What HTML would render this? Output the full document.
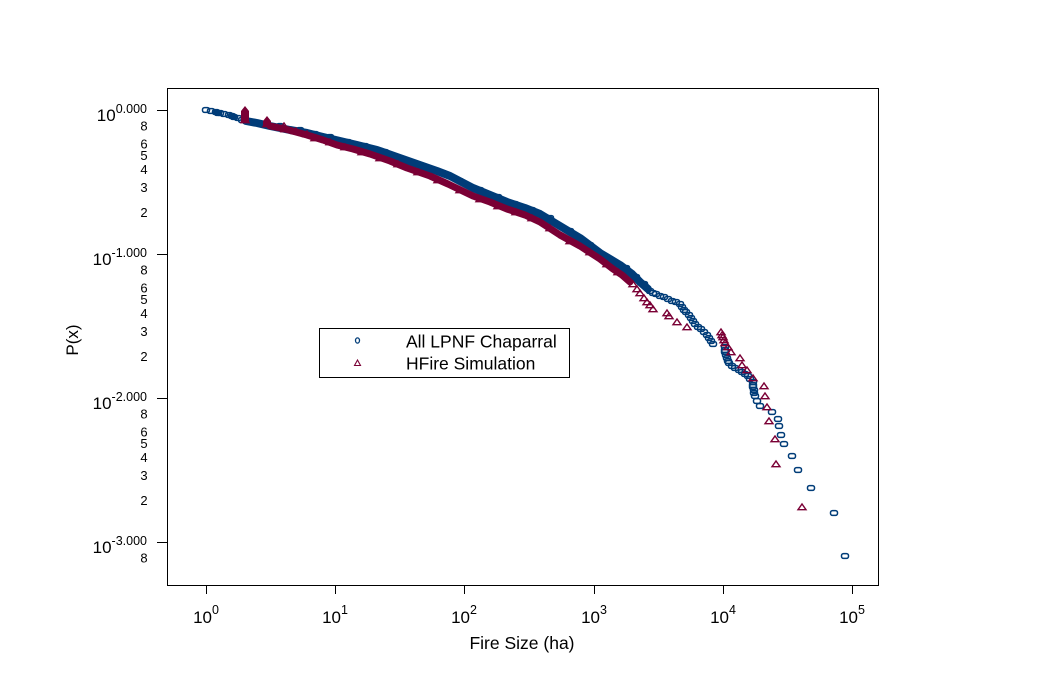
<!DOCTYPE html>
<html><head><meta charset="utf-8"><style>
html,body{margin:0;padding:0;background:#fff;}
svg{display:block;}
text{font-family:"Liberation Sans",Arial,sans-serif;fill:#000;}
</style></head><body>
<svg width="1057" height="673" viewBox="0 0 1057 673" xmlns="http://www.w3.org/2000/svg">
<defs>
<marker id="o" viewBox="-6 -5 12 10" markerWidth="12" markerHeight="10" refX="0" refY="0" markerUnits="userSpaceOnUse" overflow="visible"><rect x="-3.5" y="-2.4" width="7" height="4.8" rx="2" fill="none" stroke="#003c78" stroke-width="1.5"/></marker>
<marker id="t" viewBox="-6 -5 12 10" markerWidth="12" markerHeight="10" refX="0" refY="0" markerUnits="userSpaceOnUse" overflow="visible"><path d="M-4,2.7 L0,-3 L4,2.7 Z" fill="none" stroke="#7a0035" stroke-width="1.4"/></marker>
</defs>
<rect x="0" y="0" width="1057" height="673" fill="#fff"/>
<!-- axes box -->
<rect x="167.5" y="88.5" width="711" height="497" fill="none" stroke="#000" stroke-width="1"/>
<!-- y ticks -->
<g stroke="#000" stroke-width="1">
<line x1="157" y1="110.5" x2="167" y2="110.5"/>
<line x1="157" y1="254.5" x2="167" y2="254.5"/>
<line x1="157" y1="398.5" x2="167" y2="398.5"/>
<line x1="157" y1="542.5" x2="167" y2="542.5"/>
<!-- x ticks -->
<line x1="206.5" y1="585" x2="206.5" y2="594"/>
<line x1="335.5" y1="585" x2="335.5" y2="594"/>
<line x1="464.5" y1="585" x2="464.5" y2="594"/>
<line x1="594.5" y1="585" x2="594.5" y2="594"/>
<line x1="723.5" y1="585" x2="723.5" y2="594"/>
<line x1="852.5" y1="585" x2="852.5" y2="594"/>
</g>
<!-- y major labels -->
<g font-size="17">
<text x="147" y="121" text-anchor="end">10<tspan dy="-8" font-size="12.5">0.000</tspan></text>
<text x="147" y="265" text-anchor="end">10<tspan dy="-8" font-size="12.5">-1.000</tspan></text>
<text x="147" y="409" text-anchor="end">10<tspan dy="-8" font-size="12.5">-2.000</tspan></text>
<text x="147" y="553" text-anchor="end">10<tspan dy="-8" font-size="12.5">-3.000</tspan></text>
</g>
<!-- y minor labels -->
<g font-size="13" text-anchor="middle">
<text x="144" y="130.5">8</text><text x="144" y="148.5">6</text><text x="144" y="160">5</text><text x="144" y="174">4</text><text x="144" y="192">3</text><text x="144" y="217">2</text>
<text x="144" y="274.5">8</text><text x="144" y="292.5">6</text><text x="144" y="304">5</text><text x="144" y="318">4</text><text x="144" y="336">3</text><text x="144" y="361">2</text>
<text x="144" y="418.5">8</text><text x="144" y="436.5">6</text><text x="144" y="448">5</text><text x="144" y="462">4</text><text x="144" y="480">3</text><text x="144" y="505">2</text>
<text x="144" y="562.5">8</text>
</g>
<!-- x labels -->
<g font-size="17" text-anchor="middle">
<text x="206" y="623">10<tspan dy="-9" font-size="12.5">0</tspan></text>
<text x="335" y="623">10<tspan dy="-9" font-size="12.5">1</tspan></text>
<text x="464" y="623">10<tspan dy="-9" font-size="12.5">2</tspan></text>
<text x="594" y="623">10<tspan dy="-9" font-size="12.5">3</tspan></text>
<text x="723" y="623">10<tspan dy="-9" font-size="12.5">4</tspan></text>
<text x="852" y="623">10<tspan dy="-9" font-size="12.5">5</tspan></text>
</g>
<text x="522" y="649" font-size="17.5" text-anchor="middle">Fire Size (ha)</text>
<text transform="translate(78,340) rotate(-90)" font-size="17" text-anchor="middle">P(x)</text>

<!-- blue dense band -->
<polyline fill="none" stroke="#003c78" stroke-width="8" stroke-linejoin="round" stroke-linecap="round"
 points="246,121 257,123 270,126 290,130 307,133 323,137 340,141 357,145 377,150 397,157 417,164 437,171 450,176 473,188 490,195 507,202 525,208 540,214 560,226 580,238 600,253 620,265 632,274 640,282 648,289"/>
<!-- blue start markers -->
<polyline fill="none" stroke="none" marker-start="url(#o)" marker-mid="url(#o)" marker-end="url(#o)"
 points="206,110 211,111 216,112 218,113 220,113 224,114 229,115 232,116 234,117 238,118 242,120 246,121 251,122 256,123 261,124 266,125"/>
<rect x="213" y="110" width="9" height="5" rx="2" fill="#003c78"/>
<rect x="229" y="114" width="8" height="5" rx="2" fill="#003c78"/>
<!-- blue band texture markers -->
<polyline fill="none" stroke="none" marker-mid="url(#o)"
 points="0,0 280,126 300,130 315,134 330,137 348,142 365,146 385,152 405,160 425,167 443,173 460,181 480,190 498,197 515,204 532,210 550,218 570,231 590,245 610,259 626,268 636,277 644,284 0,0"/>
<!-- blue sparse tail -->
<polyline fill="none" stroke="none" marker-start="url(#o)" marker-mid="url(#o)" marker-end="url(#o)"
 points="650,291 653,293 656,294 660,296 664,297 668,299 672,301 676,302 680,304 682,307 684,310 686,312 689,315 691,318 693,321 695,324 698,327 701,329 704,332 707,335 709,338 711,341 713,344 725,347 725,350 725,352 726,355 727,358 728,361 729,363 732,366 735,368 739,370 742,372 745,374 748,376 750,379 753,382 753,385 753,387 754,390 754,393 755,396 757,401 760,406 772,412 778,419 779,426 781,435 784,444 792,456 798,470 811,488 834,513 845,556"/>

<!-- red dense band -->
<polyline fill="none" stroke="#7a0035" stroke-width="7" stroke-linejoin="round" stroke-linecap="round"
 points="270,126 285,129 296,132 307,135 323,140 337,145 353,149 370,154 390,161 407,168 430,176 448,184 473,196 490,202 507,209 525,215 540,222 560,235 580,246 600,259 613,269 622,275 630,282"/>
<!-- red start clusters -->
<polygon points="241,122 241,111 245,106 249,111 249,122" fill="#7a0035"/>
<polygon points="263,126 263,121 267,116 271,121 271,126" fill="#7a0035"/>
<polyline fill="none" stroke="none" marker-start="url(#t)" marker-mid="url(#t)" marker-end="url(#t)"
 points="245,120 267,124 284,126 285,129 296,131 307,134"/>
<!-- red band texture -->
<polyline fill="none" stroke="none" marker-mid="url(#t)"
 points="0,0 315,138 330,142 345,147 362,152 380,158 398,164 418,172 438,180 460,190 480,199 498,206 516,212 532,218 550,228 570,241 590,252 607,264 618,272 0,0"/>
<!-- red sparse tail -->
<polyline fill="none" stroke="none" marker-start="url(#t)" marker-mid="url(#t)" marker-end="url(#t)"
 points="633,284 637,289 640,293 644,298 647,302 650,305 653,309 667,313 669,316 677,322 687,327 721,332 722,335 723,337 724,340 725,343 728,347 731,352 740,358 742,365 747,370 753,378 764,386 765,396 767,407 769,421 775,439 776,464 802,507"/>

<!-- legend -->
<rect x="319.5" y="328.5" width="250" height="49" fill="#fff" stroke="#000" stroke-width="1"/>
<ellipse cx="357.5" cy="340.5" rx="2" ry="2.6" fill="none" stroke="#003c78" stroke-width="1.3"/>
<path d="M354.5,365.5 L357.5,360 L360.5,365.5 Z" fill="none" stroke="#7a0035" stroke-width="1.1"/>
<text x="406" y="347.5" font-size="17.5">All LPNF Chaparral</text>
<text x="406" y="369.5" font-size="17.5">HFire Simulation</text>
</svg>
</body></html>
